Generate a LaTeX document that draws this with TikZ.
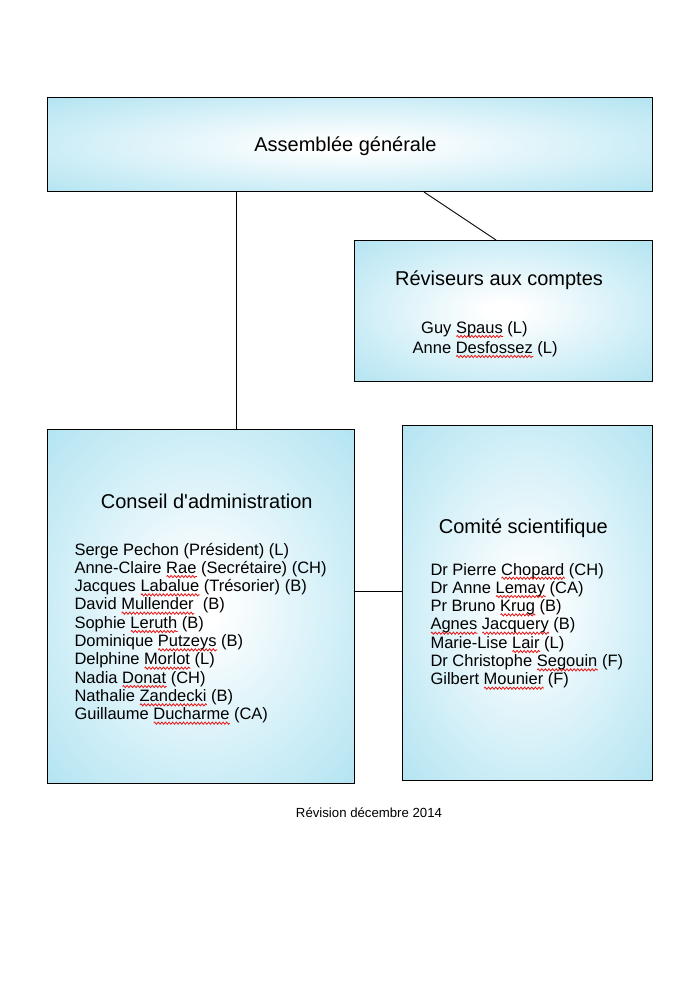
\documentclass[tikz,border=0pt]{standalone}
\usepackage{fontspec}
\setmainfont{Liberation Sans}[Ligatures=TeXOff]
\usetikzlibrary{calc,decorations.pathmorphing}
\definecolor{boxcyan}{RGB}{145,216,236}
\definecolor{squig}{RGB}{235,20,20}
\pgfdeclareradialshading{boxshade}{\pgfpoint{0bp}{0bp}}{color(0bp)=(white); color(3bp)=(white); color(50bp)=(boxcyan); color(100bp)=(boxcyan)}
\newsavebox\sqbox
\newlength\sqlen
\newcommand\sq[1]{\sbox\sqbox{#1}\setlength\sqlen{\wd\sqbox}\rlap{\tikz[baseline=0pt,x=1pt,y=1pt]\draw[squig,line width=0.8pt,decorate,decoration={zigzag,amplitude=1.1pt,segment length=3.6pt}] (0,-3.2) -- (\sqlen,-3.2);}\usebox\sqbox}
\newcommand\titlefont{\fontsize{20}{23}\selectfont}
\newcommand\listfont{\fontsize{16.5}{18.33}\selectfont}
\begin{document}
\begin{tikzpicture}[x=1pt,y=-1pt,
  box/.style={draw=black,line width=1pt,shade,shading=boxshade,inner sep=0pt,outer sep=0pt},
  title/.style={anchor=base,inner sep=0pt,font=\titlefont},
  members/.style={anchor=base west,inner sep=0pt,font=\listfont},
  link/.style={draw=black,line width=0.9pt}]
\fill[white] (0,0) rectangle (699,992);
\useasboundingbox (0,0) rectangle (699,992);

% boxes
\node[box,minimum width=605pt,minimum height=94pt] (AG) at (349.5,145) {};
\node[box,minimum width=298pt,minimum height=141pt] (RV) at (503,310.5) {};
\node[box,minimum width=307pt,minimum height=354pt] (CA) at (200.5,606) {};
\node[box,minimum width=250pt,minimum height=354.5pt] (CS) at (527,602.75) {};

% titles
\node[title] (agt) at (345.5,152) {Assemblée générale};
\node[title] (rvt) at (499,285) {Réviseurs aux comptes};
\node[title] (cat) at (206.7,508.3) {Conseil d'administration};
\node[title] (cst) at (523.3,533.3) {Comité scientifique};

% members
\node[members] (rv1) at (421,333.3) {Guy \sq{Spaus} (L)};
\node[members] (rv2) at (412.5,353.3) {Anne \sq{Desfossez} (L)};

\node[members] (cal) at (74.3,555) {\listfont\begin{tabular}[t]{@{}l@{}}
Serge Pechon (Président) (L)\\
Anne-Claire \sq{Rae} (Secrétaire) (CH)\\
Jacques \sq{Labalue} (Trésorier) (B)\\
David \sq{Mullender}\ \ (B)\\
Sophie \sq{Leruth} (B)\\
Dominique \sq{Putzeys} (B)\\
Delphine \sq{Morlot} (L)\\
Nadia \sq{Donat} (CH)\\
Nathalie \sq{Zandecki} (B)\\
Guillaume \sq{Ducharme} (CA)
\end{tabular}};

\node[members] (csl) at (430.3,575) {\listfont\begin{tabular}[t]{@{}l@{}}
Dr Pierre \sq{Chopard} (CH)\\
Dr Anne \sq{Lemay} (CA)\\
Pr Bruno \sq{Krug} (B)\\
\sq{Agnes} \sq{Jacquery} (B)\\
Marie-Lise \sq{Lair} (L)\\
Dr Christophe \sq{Segouin} (F)\\
Gilbert \sq{Mounier} (F)
\end{tabular}};

% footer
\node[anchor=base,inner sep=0pt,font=\fontsize{13.2}{15}\selectfont] (rev) at (369,817.3) {Révision décembre 2014};

% connectors
\coordinate (agl) at ($(AG.south west)+(189,0)$);
\draw[link] (agl) -- (agl |- CA.north);
\coordinate (agr) at ($(AG.south west)+(377,0)$);
\coordinate (rvn) at ($(RV.north west)+(142,0)$);
\draw[link] (agr) -- (rvn);
\coordinate (cae) at ($(CA.north east)+(0,162)$);
\draw[link] (cae) -- (cae -| CS.west);
\end{tikzpicture}
\end{document}
